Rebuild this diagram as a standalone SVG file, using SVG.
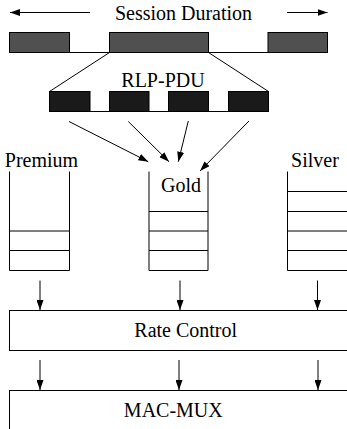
<svg xmlns="http://www.w3.org/2000/svg" width="347" height="429" viewBox="0 0 347 429">
<defs>
<marker id="ah" markerUnits="userSpaceOnUse" markerWidth="10" markerHeight="7" refX="10" refY="3.5" orient="auto">
<path d="M0,0 L10,3.5 L0,7 z" fill="#000"/>
</marker>
<style>
text{font-size:20px;fill:#000;text-anchor:middle}
.ln{stroke:#000;stroke-width:1;fill:none}
.bar{fill:#505050;stroke:#000;stroke-width:1}
.pdu{fill:#1a1a1a;stroke:#000;stroke-width:1}
.box{fill:#fff;stroke:#000;stroke-width:1}
.arr{stroke:#000;stroke-width:1;fill:none;marker-end:url(#ah)}
</style>
</defs>
<rect width="347" height="429" fill="#fff"/>
<g font-family="'Liberation Serif', 'Times New Roman', Times, serif">
<g id="session">
<text x="183.5" y="19.5">Session Duration</text>
<line class="ln" x1="9.5" y1="52.5" x2="327.5" y2="52.5"/>
<rect class="bar" x="9.5" y="32.5" width="60" height="20"/>
<rect class="bar" x="109.5" y="32.5" width="99" height="20"/>
<rect class="bar" x="268" y="32.5" width="59.5" height="20"/>
</g>
<g id="rlp-pdu">
<line class="ln" x1="109.5" y1="52.5" x2="49.5" y2="91.5"/>
<line class="ln" x1="208.5" y1="52.5" x2="268.5" y2="91.5"/>
<text x="163" y="87">RLP-PDU</text>
<line class="ln" x1="49.5" y1="111.5" x2="268.5" y2="111.5"/>
<rect class="pdu" x="49.5" y="91.5" width="40.5" height="20"/>
<rect class="pdu" x="109.5" y="91.5" width="39.5" height="20"/>
<rect class="pdu" x="168.5" y="91.5" width="40" height="20"/>
<rect class="pdu" x="228.5" y="91.5" width="40" height="20"/>
</g>
<g id="premium">
<text x="41.5" y="167">Premium</text>
<path class="ln" d="M9.5,171.5 V270.5 H69.5 V171.5"/>
<line class="ln" x1="9.5" y1="231" x2="69.5" y2="231"/>
<line class="ln" x1="9.5" y1="250.5" x2="69.5" y2="250.5"/>
</g>
<g id="gold">
<text x="181" y="191.5">Gold</text>
<path class="ln" d="M149,171.5 V270.5 H208 V171.5"/>
<line class="ln" x1="149" y1="211.5" x2="208" y2="211.5"/>
<line class="ln" x1="149" y1="231" x2="208" y2="231"/>
<line class="ln" x1="149" y1="250.5" x2="208" y2="250.5"/>
</g>
<g id="silver">
<text x="315" y="167.3">Silver</text>
<path class="ln" d="M287.5,171.5 V270.5 H350"/>
<line class="ln" x1="287.5" y1="191.5" x2="350" y2="191.5"/>
<line class="ln" x1="287.5" y1="211.5" x2="350" y2="211.5"/>
<line class="ln" x1="287.5" y1="231" x2="350" y2="231"/>
<line class="ln" x1="287.5" y1="250.5" x2="350" y2="250.5"/>
</g>
<g id="rate-control">
<rect class="box" x="9.5" y="310.5" width="345" height="40"/>
<text x="185.7" y="336.5">Rate Control</text>
</g>
<g id="mac-mux">
<rect class="box" x="9.5" y="390.5" width="345" height="50"/>
<text x="173.3" y="416.7">MAC-MUX</text>
</g>
</g>
<g id="connectors">
<line class="ln" x1="10" y1="12.5" x2="90" y2="12.5" marker-end="url(#ah)" transform="rotate(180 50 12.5)"/>
<line class="arr" x1="287" y1="12.5" x2="327.5" y2="12.5"/>
<line class="arr" x1="69" y1="121.5" x2="148.3" y2="161.7"/>
<line class="arr" x1="128.3" y1="121.5" x2="169" y2="161.7"/>
<line class="arr" x1="188.3" y1="121" x2="178.3" y2="161.7"/>
<line class="arr" x1="249" y1="121" x2="200" y2="171"/>
<line class="arr" x1="40" y1="280.5" x2="40" y2="310"/>
<line class="arr" x1="180" y1="280.5" x2="180" y2="310"/>
<line class="arr" x1="317.5" y1="280.5" x2="317.5" y2="310"/>
<line class="arr" x1="40" y1="360" x2="40" y2="390"/>
<line class="arr" x1="179" y1="360" x2="179" y2="390"/>
<line class="arr" x1="318" y1="360" x2="318" y2="390"/>
</g>
</svg>
